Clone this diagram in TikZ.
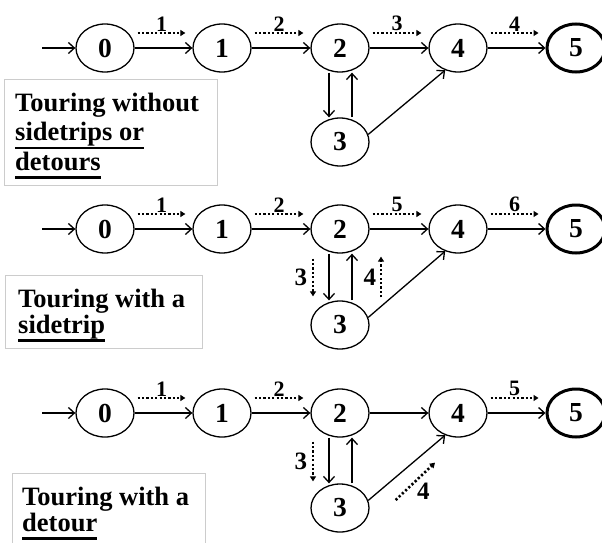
\documentclass[tikz,border=0pt]{standalone}
\usepackage{fontspec}
\setmainfont{Liberation Serif}
\usetikzlibrary{arrows.meta,shapes.geometric}
\newsavebox{\uwordbox}
\newcommand{\uword}[1]{\leavevmode\sbox{\uwordbox}{#1}%
  \rlap{\vrule height -6pt depth 8.5pt width \wd\uwordbox}\usebox{\uwordbox}}

\begin{document}
\begin{tikzpicture}[x=1pt,y=-1pt,
  state/.style={draw,ellipse,line width=1.3pt,minimum width=58pt,minimum height=48pt,
    inner sep=0pt,font=\bfseries\fontsize{27.5}{27.5}\selectfont},
  final/.style={state,line width=3pt},
  edge/.style={-{Straight Barb[length=6pt,width=11pt]},line width=1.3pt},
  walk/.style={-{Triangle[length=5pt,width=6pt]},line width=2.6pt,dash pattern=on 2.2pt off 2.2pt},
  steplabel/.style={font=\bfseries\fontsize{22}{22}\selectfont,inner sep=0.5pt},
  sidelabel/.style={steplabel,font=\bfseries\fontsize{25}{25}\selectfont},
  infobox/.style={draw=black!20,line width=1pt,anchor=north west,inner sep=0pt},
  boxtext/.style={anchor=base west,align=left,inner sep=0pt}]
  \clip (0,0) rectangle (602,543);

  % touring without sidetrips or detours
  \node[state] (A-0) at (105,48) {0};
  \node[state] (A-1) at (222,48) {1};
  \node[state] (A-2) at (340,48) {2};
  \node[state] (A-3) at (340,142) {3};
  \node[state] (A-4) at (458,48) {4};
  \node[final] (A-5) at (576,48) {5};
  \coordinate (A-in) at (42,48);
  \draw[edge] (A-in) -- (A-0);
  \draw[edge] (A-0) -- (A-1);
  \draw[edge] (A-1) -- (A-2);
  \draw[edge] (A-2) -- (A-4);
  \draw[edge] (A-4) -- (A-5);
  \draw[edge] ([xshift=-11pt]A-2.south) -- ([xshift=-11pt]A-3.north);
  \draw[edge] ([xshift=12pt]A-3.north) -- ([xshift=12pt]A-2.south);
  \draw[edge] (A-3.15) -- (A-4.-120);
  \draw[walk] ([shift={(3pt,15pt)}]A-0.east) -- ([shift={(-7pt,15pt)}]A-1.west)
    node[steplabel,midway,above] (A-w1) {1};
  \draw[walk] ([shift={(3pt,15pt)}]A-1.east) -- ([shift={(-7pt,15pt)}]A-2.west)
    node[steplabel,midway,above] (A-w2) {2};
  \draw[walk] ([shift={(3pt,15pt)}]A-2.east) -- ([shift={(-7pt,15pt)}]A-4.west)
    node[steplabel,midway,above] (A-w3) {3};
  \draw[walk] ([shift={(3pt,15pt)}]A-4.east) -- ([shift={(-7pt,15pt)}]A-5.west)
    node[steplabel,midway,above] (A-w4) {4};
  \node[infobox,minimum width=213pt,minimum height=106pt] (A-box) at (4,79) {};
  \node[boxtext,font=\bfseries\fontsize{26.5}{29.5}\selectfont] (A-text) at (15,170)
    {Touring without\\\uword{sidetrips or}\\\uword{detours}};

  % touring with a sidetrip
  \node[state] (B-0) at (105,229) {0};
  \node[state] (B-1) at (222,229) {1};
  \node[state] (B-2) at (340,229) {2};
  \node[state] (B-3) at (340,325) {3};
  \node[state] (B-4) at (458,229) {4};
  \node[final] (B-5) at (576,229) {5};
  \coordinate (B-in) at (42,229);
  \draw[edge] (B-in) -- (B-0);
  \draw[edge] (B-0) -- (B-1);
  \draw[edge] (B-1) -- (B-2);
  \draw[edge] (B-2) -- (B-4);
  \draw[edge] (B-4) -- (B-5);
  \draw[edge] ([xshift=-11pt]B-2.south) -- ([xshift=-11pt]B-3.north);
  \draw[edge] ([xshift=12pt]B-3.north) -- ([xshift=12pt]B-2.south);
  \draw[edge] (B-3.15) -- (B-4.-120);
  \draw[walk] ([shift={(3pt,15pt)}]B-0.east) -- ([shift={(-7pt,15pt)}]B-1.west)
    node[steplabel,midway,above] (B-w1) {1};
  \draw[walk] ([shift={(3pt,15pt)}]B-1.east) -- ([shift={(-7pt,15pt)}]B-2.west)
    node[steplabel,midway,above] (B-w2) {2};
  \draw[walk] ([shift={(-27pt,-5pt)}]B-2.south) -- ([shift={(-27pt,4pt)}]B-3.north)
    node[sidelabel,midway,left=4pt] (B-w3) {3};
  \draw[walk] ([shift={(41pt,3pt)}]B-3.north) -- ([shift={(41pt,-3pt)}]B-2.south)
    node[sidelabel,midway,left=3pt] (B-w4) {4};
  \draw[walk] ([shift={(3pt,15pt)}]B-2.east) -- ([shift={(-7pt,15pt)}]B-4.west)
    node[steplabel,midway,above] (B-w5) {5};
  \draw[walk] ([shift={(3pt,15pt)}]B-4.east) -- ([shift={(-7pt,15pt)}]B-5.west)
    node[steplabel,midway,above] (B-w6) {6};
  \node[infobox,minimum width=197pt,minimum height=73pt] (B-box) at (5,275) {};
  \node[boxtext,font=\bfseries\fontsize{26.5}{26}\selectfont] (B-text) at (18,333)
    {Touring with a\\\uword{sidetrip}};

  % touring with a detour
  \node[state] (C-0) at (105,413) {0};
  \node[state] (C-1) at (222,413) {1};
  \node[state] (C-2) at (340,413) {2};
  \node[state] (C-3) at (340,508) {3};
  \node[state] (C-4) at (458,413) {4};
  \node[final] (C-5) at (576,413) {5};
  \coordinate (C-in) at (42,413);
  \draw[edge] (C-in) -- (C-0);
  \draw[edge] (C-0) -- (C-1);
  \draw[edge] (C-1) -- (C-2);
  \draw[edge] (C-2) -- (C-4);
  \draw[edge] (C-4) -- (C-5);
  \draw[edge] ([xshift=-11pt]C-2.south) -- ([xshift=-11pt]C-3.north);
  \draw[edge] ([xshift=12pt]C-3.north) -- ([xshift=12pt]C-2.south);
  \draw[edge] (C-3.15) -- (C-4.-120);
  \draw[walk] ([shift={(3pt,15pt)}]C-0.east) -- ([shift={(-7pt,15pt)}]C-1.west)
    node[steplabel,midway,above] (C-w1) {1};
  \draw[walk] ([shift={(3pt,15pt)}]C-1.east) -- ([shift={(-7pt,15pt)}]C-2.west)
    node[steplabel,midway,above] (C-w2) {2};
  \draw[walk] ([shift={(-27pt,-4pt)}]C-2.south) -- ([shift={(-27pt,2pt)}]C-3.north)
    node[sidelabel,midway,left=4pt] (C-w3) {3};
  \draw[walk] ([shift={(26pt,8pt)}]C-3.east) -- ([shift={(-23pt,-25pt)}]C-4.south)
    node[sidelabel,midway,below right=0pt] (C-w4) {4};
  \draw[walk] ([shift={(3pt,15pt)}]C-4.east) -- ([shift={(-7pt,15pt)}]C-5.west)
    node[steplabel,midway,above] (C-w5) {5};
  \node[infobox,minimum width=193pt,minimum height=90pt] (C-box) at (12,473) {};
  \node[boxtext,font=\bfseries\fontsize{26.5}{26}\selectfont] (C-text) at (22,531)
    {Touring with a\\\uword{detour}};
\end{tikzpicture}
\end{document}
